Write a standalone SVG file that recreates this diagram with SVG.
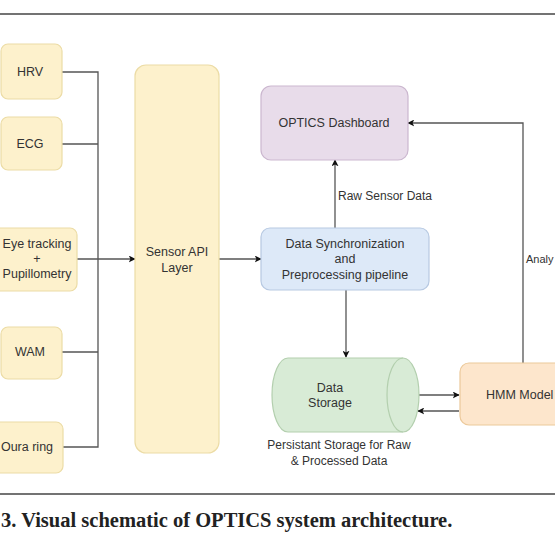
<svg xmlns="http://www.w3.org/2000/svg" width="555" height="555" viewBox="0 0 555 555">
<style>
.t{font-family:"Liberation Sans",Arial,sans-serif;font-size:12.5px;fill:#333;text-anchor:middle;dominant-baseline:central}
.y{fill:#fdf1cc;stroke:#ecdca6;stroke-width:1.2}
.c{fill:none;stroke:#555;stroke-width:1.3}
.rule{stroke:#444;stroke-width:1.3}
</style>
<defs>
<marker id="ah" viewBox="0 0 10 10" refX="9" refY="5" markerWidth="7" markerHeight="7" orient="auto" markerUnits="userSpaceOnUse">
<path d="M0,0 L10,5 L0,10 L2.5,5 Z" fill="#111"/>
</marker>
</defs>
<rect width="555" height="555" fill="#fff"/>
<line class="rule" x1="0" y1="14" x2="555" y2="14"/>
<line class="rule" x1="0" y1="494" x2="555" y2="494"/>

<g id="connectors">
<path class="c" d="M62,72 H98 V447 H63"/>
<path class="c" d="M62,144 H98"/>
<path class="c" d="M62,352 H98"/>
<path class="c" d="M77,259 H135" marker-end="url(#ah)"/>
<path class="c" d="M219,259 H261" marker-end="url(#ah)"/>
<path class="c" d="M335,228 V160" marker-end="url(#ah)"/>
<text class="t" x="338" y="196" style="text-anchor:start;font-size:12px">Raw Sensor Data</text>
<path class="c" d="M346,290 V357" marker-end="url(#ah)"/>
<path class="c" d="M523,363 V123 H408" marker-end="url(#ah)"/>
<text class="t" x="526" y="259" style="text-anchor:start;font-size:11px">Analy</text>
<path class="c" d="M419,395 H459" marker-end="url(#ah)"/>
<path class="c" d="M459,411 H418" marker-end="url(#ah)"/>
</g>

<g id="hrv">
<rect class="y" x="1" y="44" width="61" height="55" rx="7"/>
<text class="t" x="30" y="72">HRV</text>
</g>
<g id="ecg">
<rect class="y" x="1" y="117" width="61" height="53" rx="7"/>
<text class="t" x="30" y="144">ECG</text>
</g>
<g id="eye">
<rect class="y" x="-51" y="228" width="128" height="63" rx="7"/>
<text class="t" x="37" y="244">Eye tracking</text>
<text class="t" x="37" y="259">+</text>
<text class="t" x="37" y="274">Pupillometry</text>
</g>
<g id="wam">
<rect class="y" x="1" y="327" width="61" height="52" rx="7"/>
<text class="t" x="30" y="352">WAM</text>
</g>
<g id="oura">
<rect class="y" x="-19" y="422" width="82" height="51" rx="7"/>
<text class="t" x="27" y="447">Oura ring</text>
</g>

<g id="sensor-api">
<rect class="y" x="135" y="65" width="84" height="388" rx="11"/>
<text class="t" x="177" y="252">Sensor API</text>
<text class="t" x="177" y="268">Layer</text>
</g>

<g id="dashboard">
<rect x="261" y="86" width="147" height="74" rx="10" fill="#e8dcea" stroke="#cbb7cf" stroke-width="1.2"/>
<text class="t" x="334" y="123">OPTICS Dashboard</text>
</g>

<g id="sync">
<rect x="261" y="228" width="168" height="62" rx="9" fill="#dde9f8" stroke="#b7c9e2" stroke-width="1.2"/>
<text class="t" x="345" y="244">Data Synchronization</text>
<text class="t" x="345" y="259">and</text>
<text class="t" x="345" y="275">Preprocessing pipeline</text>
</g>

<g id="storage">
<path d="M288,358 H403 A16,37 0 0 1 403,432 H288 A16,37 0 0 1 288,358 Z" fill="#d8ebd6" stroke="#b3cfae" stroke-width="1.2"/>
<path d="M403,358 A16,37 0 0 0 403,432" fill="none" stroke="#b3cfae" stroke-width="1.2"/>
<text class="t" x="330" y="388">Data</text>
<text class="t" x="330" y="403">Storage</text>
<text class="t" x="339" y="445" style="font-size:12px">Persistant Storage for Raw</text>
<text class="t" x="339" y="461" style="font-size:12px">&amp; Processed Data</text>
</g>

<g id="hmm">
<rect x="460" y="363" width="130" height="62" rx="9" fill="#fde6cc" stroke="#ecc99a" stroke-width="1.2"/>
<text class="t" x="486" y="395" style="text-anchor:start">HMM Model</text>
</g>

<text x="1" y="527" style="font-family:'Liberation Serif','Times New Roman',serif;font-weight:bold;font-size:20.5px;fill:#222">3. Visual schematic of OPTICS system architecture.</text>
</svg>
